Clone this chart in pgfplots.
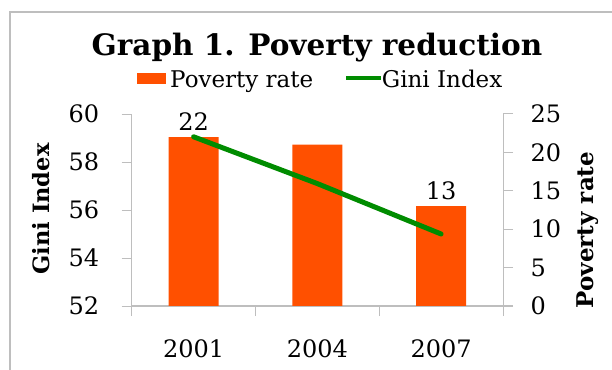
\documentclass[border=0pt]{standalone}
\usepackage{pgfplots}
\pgfplotsset{compat=1.18}
\usepackage{fontspec}
\setmainfont{DejaVu Serif}
\definecolor{barorange}{RGB}{255,80,0}
\definecolor{ginigreen}{RGB}{0,140,0}
\definecolor{axgray}{RGB}{190,190,190}
\newcommand{\tickfont}{\fontsize{24}{28}\selectfont}
\pgfplotsset{base/.style={
  scale only axis, width=371.3pt, height=192pt,
  at={(131.7pt,63pt)}, anchor=south west,
  xmin=-0.5, xmax=2.5,
  tick align=outside, major tick length=10pt,
  /pgf/number format/assume math mode=true,
  tick style={axgray, line width=1pt},
  axis line style={axgray, line width=1pt},
  ticklabel style={font=\tickfont, text=black},
}}
\begin{document}
\begin{tikzpicture}[x=1pt,y=1pt]
\path[use as bounding box] (0,0) rectangle (612,369);
\draw[axgray, line width=1.2pt] (10,-5) -- (10,357) -- (620,357);
% title
\node[anchor=base, font=\fontsize{29.5}{34}\selectfont\bfseries, inner sep=0] at (317,313.3) {Graph 1. Poverty reduction};
% legend
\fill[barorange] (137,284.7) rectangle (166,296.3);
\node[anchor=base west, inner sep=0, font=\fontsize{23}{27}\selectfont] at (170,281) {Poverty rate};
\draw[ginigreen, line width=4pt] (346,291) -- (381,291);
\node[anchor=base west, inner sep=0, font=\fontsize{23}{27}\selectfont] at (381.7,281) {Gini Index};
% axis labels
\node[rotate=90, inner sep=0, font=\fontsize{22.5}{27}\selectfont\bfseries] at (41,160) {Gini Index};
\node[rotate=90, inner sep=0, font=\fontsize{23}{27}\selectfont\bfseries] at (588,139) {Poverty rate};

\begin{axis}[base, ymin=0, ymax=25, ytick={0,5,...,25},
  axis y line*=right, axis x line*=bottom,
  xtick={-0.5,0.5,1.5,2.5}, xticklabels={,,,},
  yticklabel style={anchor=west, xshift=14pt},
]
\addplot[ybar, bar width=50pt, fill=barorange, draw=none] coordinates {(0,22) (1,21) (2,13)};
\addplot[only marks, mark=none, point meta=y, nodes near coords,
  nodes near coords style={font=\tickfont, anchor=south, yshift=3pt, text=black}]
  coordinates {(0,22) (2,13)};
\end{axis}

\begin{axis}[base, ymin=52, ymax=60, ytick={52,54,...,60},
  axis y line*=left, axis x line*=bottom,
  xtick={0,1,2}, xticklabels={2001,2004,2007}, xtick style={draw=none},
  yticklabel style={anchor=east, xshift=-19pt},
  xticklabel style={yshift=-20pt},
]
\addplot[ginigreen, line width=5pt, line cap=round, mark=none] coordinates {(0,59.05) (1,57.1) (2,55.0)};
\end{axis}
\end{tikzpicture}
\end{document}
